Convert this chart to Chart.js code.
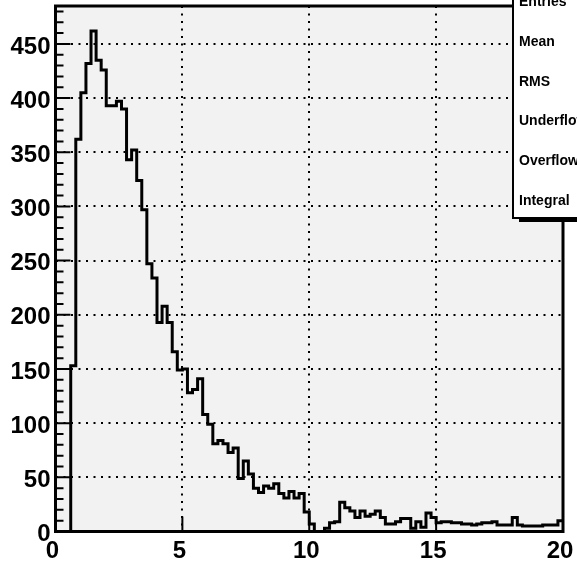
<!DOCTYPE html>
<html>
<head>
<meta charset="utf-8">
<script src="https://cdn.jsdelivr.net/npm/chart.js@4.4.1/dist/chart.umd.min.js"></script>
<style>
  body { margin: 0; background: #fff; }
  #wrap { position: relative; width: 577px; height: 561px; overflow: hidden; }
  #stats {
    position: absolute; left: 512px; top: -30px; width: 90px; height: 245px;
    border: 2px solid #000; background: #fff; box-shadow: 7px 3px 0 #000;
    font: bold 14px "Liberation Sans", Arial, sans-serif; color: #000;
  }
  #stats div { position: absolute; left: 5px; line-height: 16px; white-space: nowrap; }
</style>
</head>
<body>
<div id="wrap">
  <canvas id="histo" width="577" height="561"></canvas>
  <div id="stats"></div>
</div>
<script>
// histogram: 100 bins of 0.2 from 0 to 20
const xMin = 0;
const xMax = 20;
const binWidth = 0.2;
const counts = [
  0, 0, 0, 153, 362, 405, 432, 462, 435, 426,
  393, 393, 397, 390, 343, 352, 324, 297, 247, 234,
  193, 208, 193, 166, 149, 150, 128, 131, 141, 108,
  99, 81, 84, 81, 73, 77, 49, 65, 53, 40,
  36, 42, 40, 44, 35, 31, 37, 31, 35, 18,
  7, 0, 0, 3, 8, 9, 27, 22, 19, 13,
  19, 14, 16, 19, 13, 7, 7, 9, 12, 12,
  3, 9, 4, 17, 13, 8, 9, 9, 8, 8,
  7, 7, 6, 7, 8, 8, 9, 6, 6, 6,
  13, 6, 5, 5, 5, 5, 6, 6, 6, 10
];
const yMax = 485;
const xTickStep = 5;
const yTickStep = 50;
const yMinorStep = 10;
const statLabels = ["Entries", "Mean", "RMS", "Underflow", "Overflow", "Integral"];

// stats box rows
const statsBox = document.getElementById("stats");
statLabels.forEach((label, i) => {
  let row = document.createElement("div");
  row.textContent = label;
  row.style.top = (21 + i * 39.8) + "px";
  statsBox.appendChild(row);
});

// step points at the low edge of each bin, plus the last high edge
let points = counts.map((c, i) => ({ x: xMin + i * binWidth, y: c }));
points.push({ x: xMax, y: counts[counts.length - 1] });

const labelFont = { family: '"Liberation Sans", Arial, sans-serif', size: 24, weight: 'bold' };

// ROOT-like frame: grey pad, inside ticks, thick border
const rootFrame = {
  id: 'rootFrame',
  beforeDraw(chart) {
    const { ctx, chartArea: a } = chart;
    ctx.save();
    ctx.fillStyle = '#f2f2f2';
    ctx.fillRect(a.left, a.top, a.right - a.left, a.bottom - a.top);
    ctx.restore();
  },
  afterDraw(chart) {
    const { ctx, chartArea: a, scales } = chart;
    ctx.save();
    ctx.strokeStyle = '#000';
    ctx.lineWidth = 2;
    ctx.beginPath();
    for (let v = 0; v <= yMax; v += yMinorStep) {
      let py = scales.y.getPixelForValue(v);
      let len = v % yTickStep === 0 ? 15 : 8;
      ctx.moveTo(a.left, py);
      ctx.lineTo(a.left + len, py);
    }
    for (let v = xMin; v <= xMax; v += xTickStep) {
      let px = scales.x.getPixelForValue(v);
      ctx.moveTo(px, a.bottom);
      ctx.lineTo(px, a.bottom - 15);
    }
    ctx.stroke();
    ctx.lineWidth = 3;
    ctx.strokeRect(a.left, a.top, a.right - a.left, a.bottom - a.top);
    ctx.restore();
  }
};

new Chart(document.getElementById("histo").getContext("2d"), {
  type: 'line',
  data: {
    datasets: [{
      data: points,
      stepped: 'before',
      borderColor: '#000',
      borderWidth: 3,
      pointRadius: 0,
      fill: false
    }]
  },
  options: {
    responsive: false,
    animation: false,
    devicePixelRatio: 1,
    layout: { padding: { top: 6, right: 14, left: 0, bottom: 0 } },
    plugins: { legend: { display: false }, tooltip: { enabled: false } },
    scales: {
      x: {
        type: 'linear', min: xMin, max: xMax,
        afterFit: s => { s.height = 29.5; s.paddingLeft = 0; s.paddingRight = 0; },
        grid: { color: '#000', lineWidth: 2, drawTicks: false },
        border: { display: false, dash: [2, 5.5] },
        ticks: { stepSize: xTickStep, color: '#000', font: labelFont, padding: 5, labelOffset: -3, maxRotation: 0 }
      },
      y: {
        min: 0, max: yMax,
        afterFit: s => { s.width = 55.5; s.paddingTop = 0; s.paddingBottom = 0; },
        grid: { color: '#000', lineWidth: 2, drawTicks: false },
        border: { display: false, dash: [2, 5.5] },
        ticks: { stepSize: yTickStep, includeBounds: false, color: '#000', font: labelFont, padding: 5, labelOffset: 3 }
      }
    }
  },
  plugins: [rootFrame]
});
</script>
</body>
</html>
